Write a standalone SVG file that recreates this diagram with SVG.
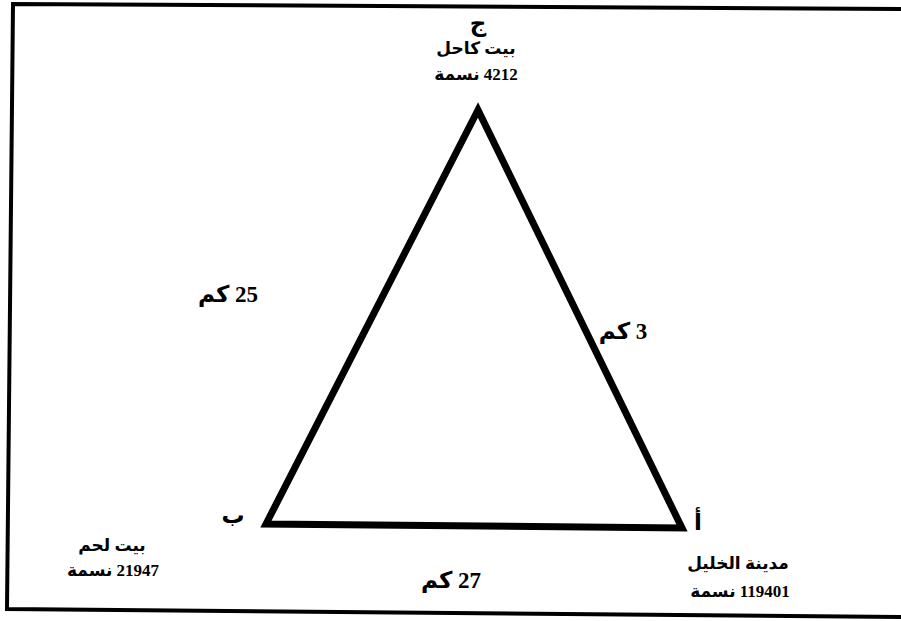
<svg xmlns="http://www.w3.org/2000/svg" width="901" height="621" viewBox="0 0 901 621">
<style>
.lbl{font-family:"Liberation Serif","DejaVu Sans",serif;font-weight:bold;fill:#000;text-anchor:middle;direction:rtl}
.big{font-size:23px}
.sm{font-size:17px}
.edge{fill:none;stroke:#000;stroke-width:7;stroke-linejoin:miter}
</style>
<rect width="901" height="621" fill="#fff"/>
<path d="M906,9 L13,4 L7,609 L906,617" fill="none" stroke="#000" stroke-width="4"/>
<g id="connectors">
<polygon class="edge" points="266,524 478,110 682,528"/>
<text class="lbl big" x="228" y="302">25 كم</text>
<text class="lbl big" x="623" y="339">3 كم</text>
<text class="lbl big" x="451" y="588">27 كم</text>
</g>
<g id="node-c">
<text class="lbl big" x="478" y="31">ج</text>
<text class="lbl sm" x="476" y="54">بيت كاحل</text>
<text class="lbl sm" x="476" y="80">4212 نسمة</text>
</g>
<g id="node-b">
<text class="lbl big" x="233" y="523">ب</text>
<text class="lbl sm" x="112" y="551">بيت لحم</text>
<text class="lbl sm" x="113" y="576">21947 نسمة</text>
</g>
<g id="node-a">
<text class="lbl big" x="698" y="530">أ</text>
<text class="lbl sm" x="738" y="569">مدينة الخليل</text>
<text class="lbl sm" x="740" y="597">119401 نسمة</text>
</g>
</svg>
